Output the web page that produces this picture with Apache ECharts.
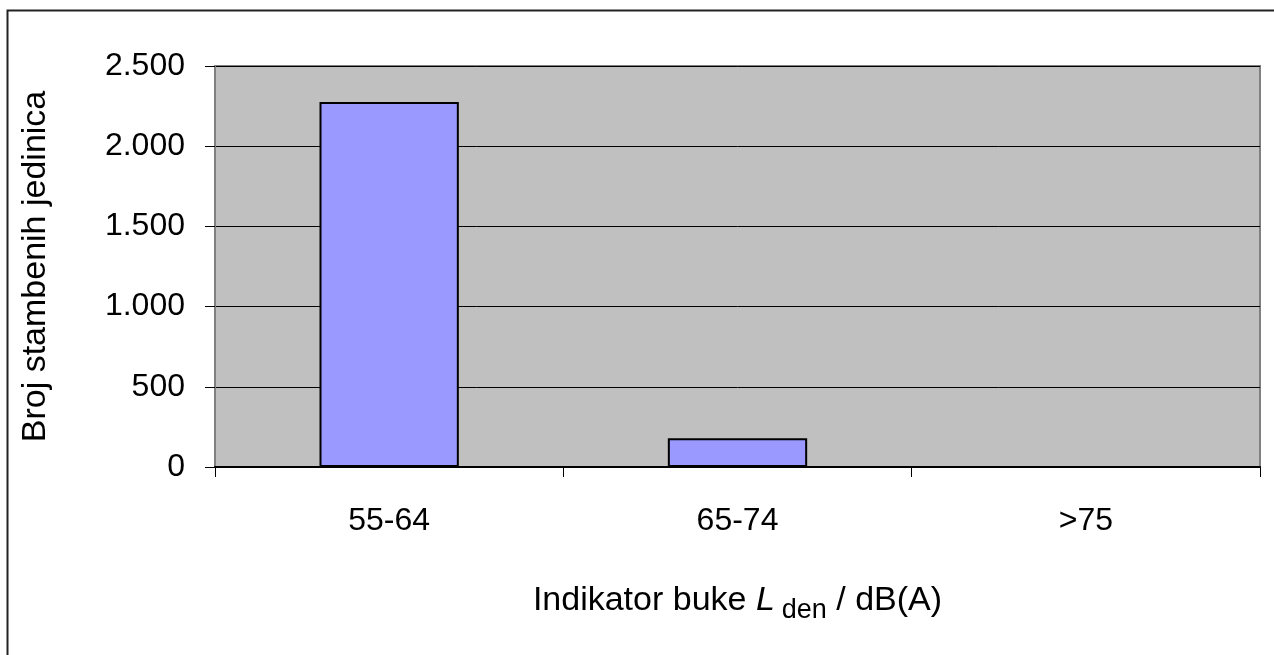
<!DOCTYPE html>
<html>
<head>
<meta charset="utf-8">
<script src="https://cdn.jsdelivr.net/npm/echarts@6/dist/echarts.min.js"></script>
<style>html,body{margin:0;padding:0;background:#fff;}#c{width:1274px;height:655px;}</style>
</head>
<body>
<div id="c"></div>
<script>
var categories = ['55-64', '65-74', '>75'];
var values = [2275, 180, 0];
var yTicks = [0, 500, 1000, 1500, 2000, 2500];
var yAxisTitle = 'Broj stambenih jedinica';

var chart = echarts.init(document.getElementById('c'), null, {renderer: 'canvas'});
var F = '"Liberation Sans", Arial, sans-serif';
chart.setOption({
  animation: false,
  backgroundColor: '#fff',
  graphic: [{
    type: 'rect', z: 100, silent: true,
    shape: {x: 7.5, y: 10.5, width: 1400, height: 800},
    style: {fill: 'none', stroke: '#222', lineWidth: 2}
  }],
  grid: {
    left: 215, right: 14, top: 66, bottom: 188,
    show: true, backgroundColor: '#c0c0c0', borderColor: '#808080', borderWidth: 2
  },
  xAxis: {
    type: 'category',
    data: categories,
    axisLine: {show: true, lineStyle: {color: '#000', width: 2}},
    axisTick: {show: true, length: 10, lineStyle: {color: '#000', width: 1}},
    axisLabel: {fontFamily: F, fontSize: 32, color: '#000', margin: 38},
    splitLine: {show: false},
    name: '{a|Indikator buke }{L|L}{s|den}{a| / dB(A)}',
    nameLocation: 'middle',
    nameGap: 110,
    nameTextStyle: {
      fontFamily: F, color: '#000',
      rich: {
        a: {fontFamily: F, fontSize: 34, color: '#000'},
        L: {fontFamily: F, fontSize: 34, fontStyle: 'italic', color: '#000', padding: [0, 7, 0, 0]},
        s: {fontFamily: F, fontSize: 27, color: '#000', verticalAlign: 'top', padding: [20, 0, 0, 0]}
      }
    }
  },
  yAxis: {
    type: 'value',
    min: 0, max: 2500, interval: 500,
    axisLine: {show: true, lineStyle: {color: '#808080', width: 2}},
    axisTick: {show: true, length: 10, lineStyle: {color: '#000', width: 1}},
    axisLabel: {
      fontFamily: F, fontSize: 32, color: '#000', margin: 30,
      formatter: function (v) { return v.toLocaleString('de-DE'); }
    },
    splitLine: {show: true, lineStyle: {color: '#000', width: 1}},
    name: yAxisTitle,
    nameLocation: 'middle',
    nameGap: 162,
    nameTextStyle: {fontFamily: F, fontSize: 34, color: '#000'}
  },
  series: [{
    type: 'bar',
    data: values,
    barWidth: '40%',
    itemStyle: {color: '#9999ff', borderColor: '#000', borderWidth: 2}
  }]
});
</script>
</body>
</html>
